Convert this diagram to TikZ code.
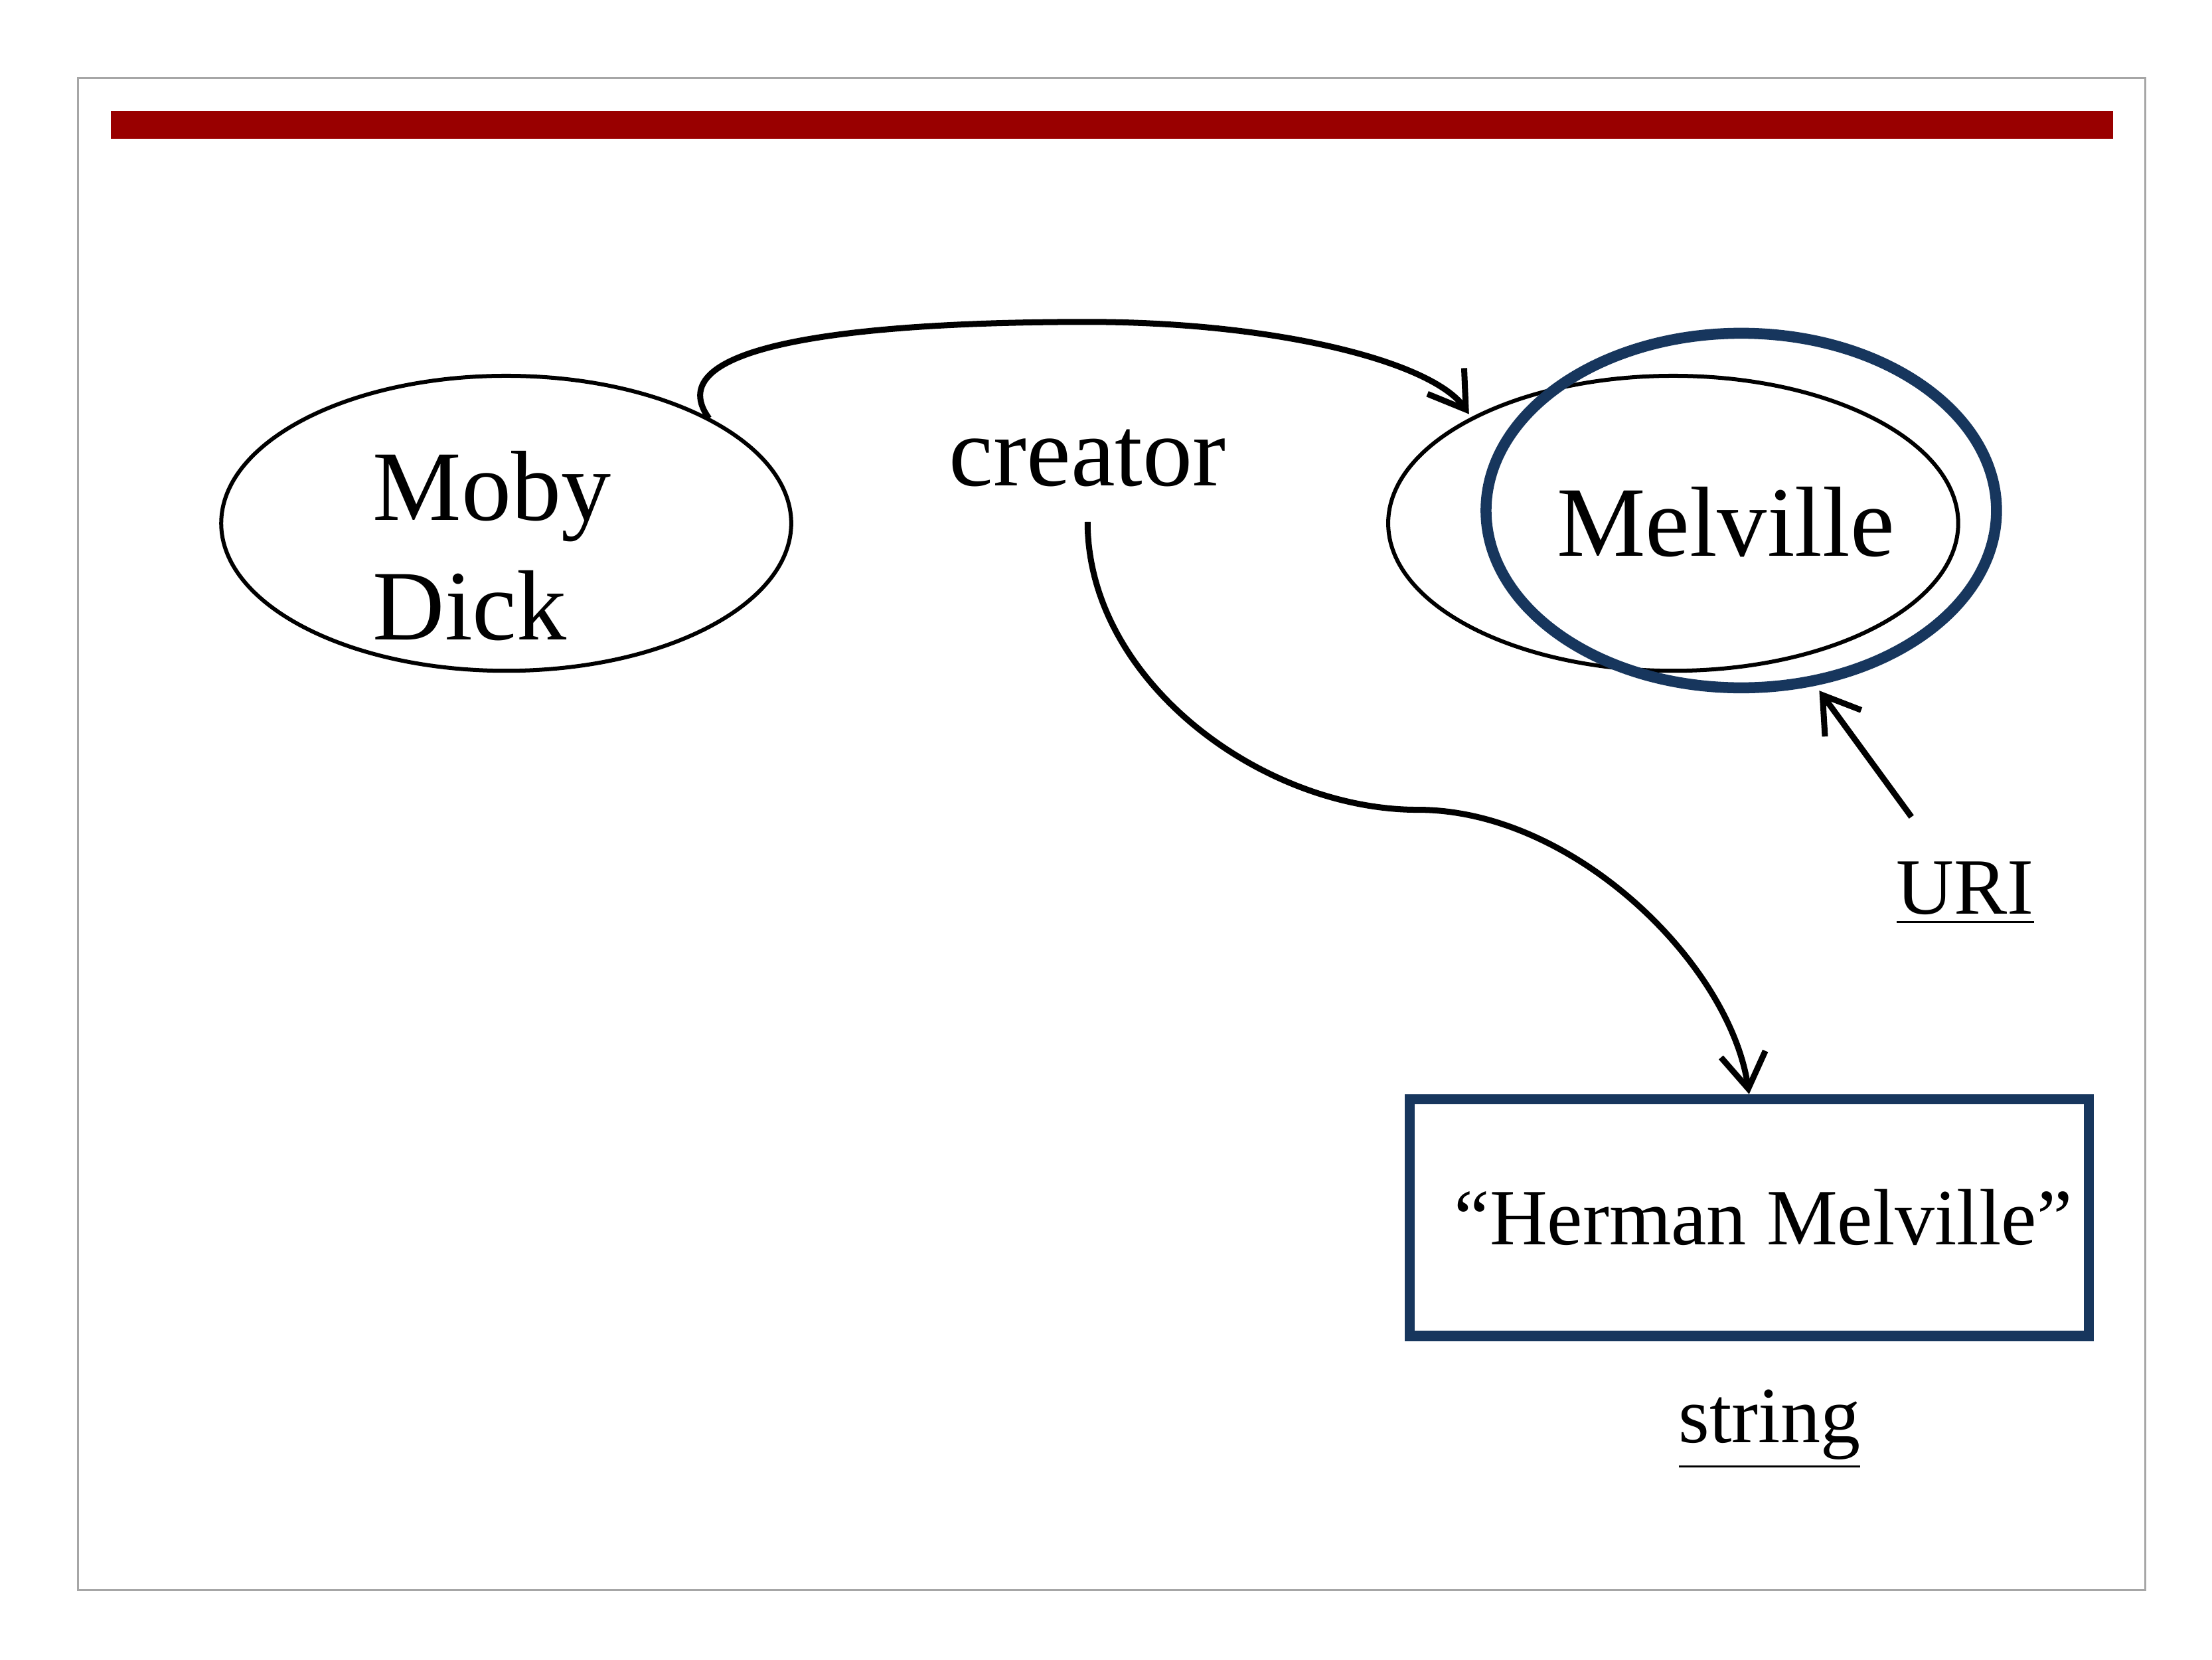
\documentclass[tikz,border=0pt]{standalone}
\usepackage{fontspec}
\setmainfont{Liberation Serif}
\usetikzlibrary{positioning,shapes.geometric,arrows.meta}
\definecolor{barred}{HTML}{990000}
\definecolor{navy}{HTML}{17365D}
\tikzset{
  resource/.style={draw, thick, ellipse, inner sep=0pt, minimum width=4.02cm, minimum height=2.08cm},
  label text/.style={font=\fontsize{20}{24}\selectfont},
  conn/.style={very thick, -{Straight Barb[length=7pt,width=9pt]}},
}
\begin{document}
\begin{tikzpicture}
  \useasboundingbox (0,0) rectangle (15.6,11.7);
  % frame and title bar
  \draw[gray!70] (0.55,0.49) rectangle (15.13,11.15);
  \fill[barred] (0.78,10.72) rectangle (14.9,10.92);
  % resources
  \node[resource] (moby) at (3.57,8.01) {};
  \node[label text, align=left] (mobytext) at (3.47,7.85) {Moby\\Dick};
  \node[resource] (melville) at (11.8,8.01) {};
  \draw[navy, line width=2.2pt] (12.28,8.1) ellipse (1.8cm and 1.25cm);
  \node[label text] (melvilletext) at (12.17,8.02) {Melville};
  \node[label text] (creator) at (7.67,8.47) {creator};
  \coordinate (arcstart) at (5.0,8.75);
  \coordinate (arcend) at (10.36,8.78);
  \coordinate (creatorfoot) at (7.67,8.02);
  \coordinate (uritail) at (13.48,5.94);
  \coordinate (uritip) at (12.83,6.83);
  % literal
  \node[draw=navy, line width=2pt, minimum width=4.77cm, minimum height=1.67cm,
        font=\fontsize{16}{19}\selectfont] (literal) at (12.335,3.115) {\hspace{2mm}``Herman Melville''};
  \node[font=\fontsize{16}{19}\selectfont] (uri) at (13.86,5.4) {\underline{URI}};
  \node[font=\fontsize{16}{19}\selectfont] (string) at (12.48,1.62) {\underline{string}};
  % connectors
  \draw[conn] (arcstart) .. controls (4.6,9.3) and (6.2,9.43) .. (7.67,9.43)
    .. controls (9.0,9.43) and (10.1,9.15) .. (arcend);
  \draw[conn] (creatorfoot) .. controls (7.67,6.9) and (8.9,5.99) .. (10.0,5.99)
    .. controls (11.1,5.99) and (12.2,4.9) .. (literal.north);
  \draw[conn] (uritail) -- (uritip);
\end{tikzpicture}
\end{document}
